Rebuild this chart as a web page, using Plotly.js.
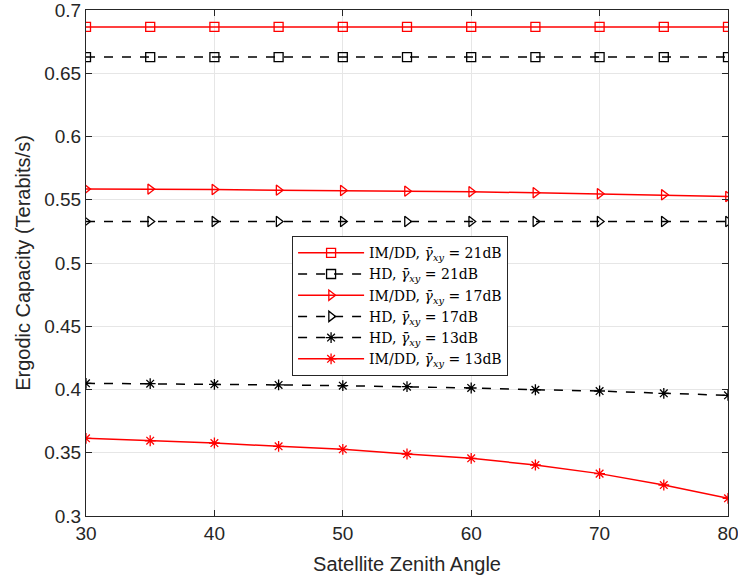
<!DOCTYPE html>
<html><head><meta charset="utf-8">
<script src="https://cdn.plot.ly/plotly-3.0.1.min.js"></script>
<style>html,body{margin:0;padding:0;background:#fff}</style>
</head><body>
<div id="chart" style="width:738px;height:579px"></div>
<script>
const angles = [30,35,40,45,50,55,60,65,70,75,80];
const imdd21 = [0.6866,0.6866,0.6866,0.6866,0.6866,0.6866,0.6866,0.6866,0.6866,0.6866,0.6866];
const hd21   = [0.6628,0.6628,0.6628,0.6628,0.6628,0.6628,0.6628,0.6628,0.6628,0.6628,0.6628];
const imdd17 = [0.5584,0.5584,0.5581,0.5576,0.5573,0.5568,0.5563,0.5555,0.5547,0.5539,0.5526];
const hd17   = [0.5328,0.5328,0.5328,0.5328,0.5328,0.5328,0.5328,0.5328,0.5328,0.5328,0.5328];
const hd13   = [0.4049,0.4046,0.4041,0.4036,0.4030,0.4022,0.4012,0.3998,0.3988,0.3970,0.3954];
const imdd13 = [0.3614,0.3595,0.3577,0.3551,0.3527,0.3490,0.3456,0.3403,0.3335,0.3245,0.3140];
const names = [
  "IM/DD, <i>γ̄</i><sub><i>xy</i></sub> = 21dB",
  "HD, <i>γ̄</i><sub><i>xy</i></sub> = 21dB",
  "IM/DD, <i>γ̄</i><sub><i>xy</i></sub> = 17dB",
  "HD, <i>γ̄</i><sub><i>xy</i></sub> = 17dB",
  "HD, <i>γ̄</i><sub><i>xy</i></sub> = 13dB",
  "IM/DD, <i>γ̄</i><sub><i>xy</i></sub> = 13dB"
];
const RED = '#ff0000', BLK = '#000000';
function tr(y, name, color, dash, symbol){
  return {x: angles, y: y, name: name, type: 'scatter', mode: 'lines+markers',
    line: {color: color, width: 1.5, dash: dash},
    marker: {symbol: symbol, size: 9, color: color, line: {color: color, width: 1.3}}};
}
const data = [
  tr(imdd21, names[0], RED, 'solid', 'square-open'),
  tr(hd21, names[1], BLK, 'dash', 'square-open'),
  tr(imdd17, names[2], RED, 'solid', 'triangle-right-open'),
  tr(hd17, names[3], BLK, 'dash', 'triangle-right-open'),
  tr(hd13, names[4], BLK, 'dash', 'asterisk-open'),
  tr(imdd13, names[5], RED, 'solid', 'asterisk-open')
];
const SANS = 'Liberation Sans, Arial, sans-serif';
const axisCommon = {
  showline: true, linecolor: '#262626', linewidth: 1, mirror: 'ticks',
  ticks: 'inside', ticklen: 6, tickcolor: '#262626',
  showgrid: true, gridcolor: '#e6e6e6', gridwidth: 1, zeroline: false,
  ticklabeloverflow: 'allow',
  tickfont: {family: SANS, size: 19, color: '#262626'}
};
const layout = {
  width: 738, height: 579,
  margin: {l: 86, r: 10, t: 10, b: 63},
  paper_bgcolor: '#fff', plot_bgcolor: '#fff',
  showlegend: true,
  legend: {x: 0.321, y: 0.553, xanchor: 'left', yanchor: 'top',
    bgcolor: '#fff', bordercolor: '#262626', borderwidth: 1,
    font: {family: 'DejaVu Serif, serif', size: 14, color: '#000'},
    tracegroupgap: 0, itemwidth: 66},
  xaxis: Object.assign({}, axisCommon, {range: [30, 80], dtick: 10,
    title: {text: 'Satellite Zenith Angle', standoff: 14,
      font: {family: SANS, size: 20, color: '#262626'}}}),
  yaxis: Object.assign({}, axisCommon, {range: [0.3, 0.7], dtick: 0.05,
    title: {text: 'Ergodic Capacity (Terabits/s)', standoff: 8,
      font: {family: SANS, size: 20, color: '#262626'}}})
};
Plotly.newPlot('chart', data, layout, {displayModeBar: false});
</script>
</body></html>
